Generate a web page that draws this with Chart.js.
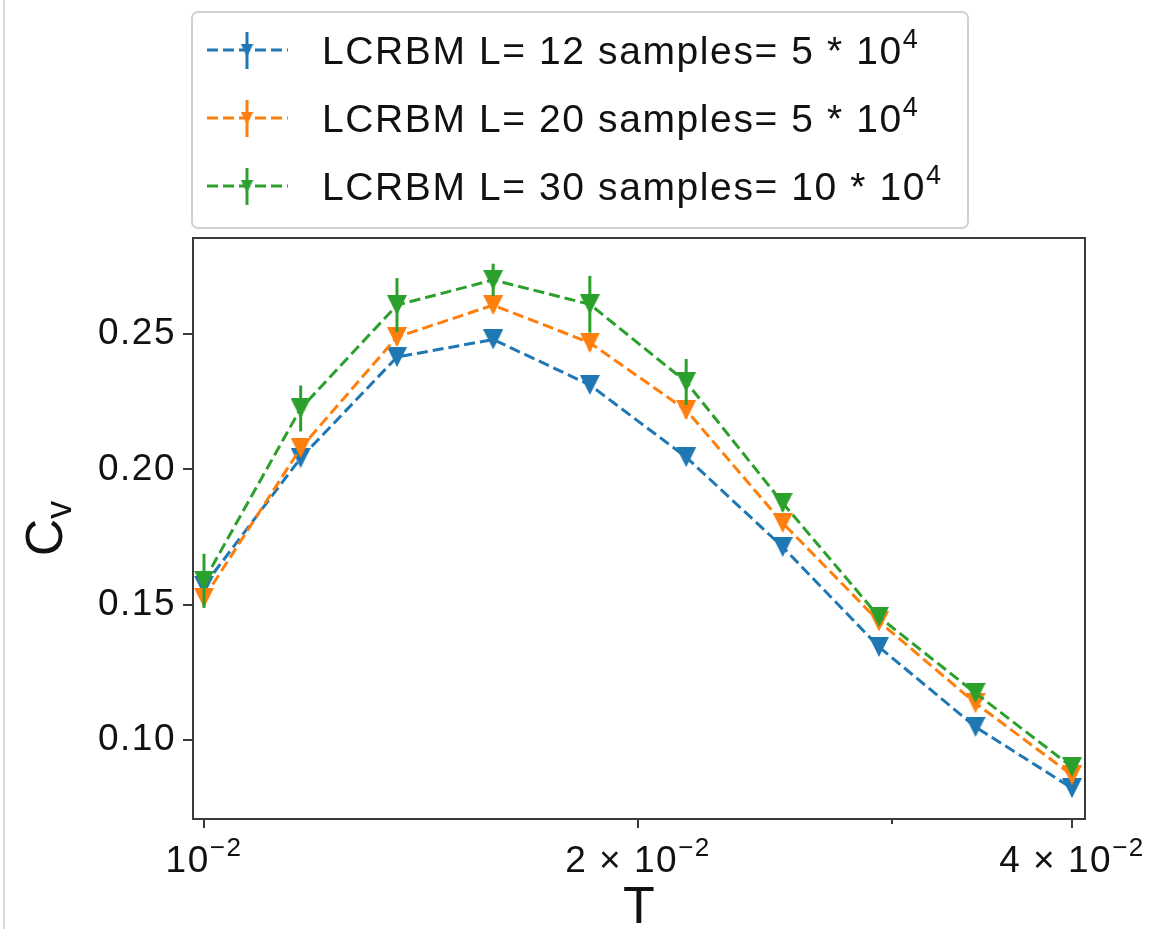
<!DOCTYPE html>
<html>
<head>
<meta charset="utf-8">
<title>Cv vs T</title>
<script src="https://cdn.jsdelivr.net/npm/chart.js@4.4.1/dist/chart.umd.min.js"></script>
<style>
  html,body{margin:0;padding:0;background:#fff;}
  #wrap{position:relative;width:1159px;height:929px;overflow:hidden;}
  #wrap:before{content:'';position:absolute;left:3px;top:0;width:2px;height:929px;background:#d8d8d8;}
  canvas{display:block;}
</style>
</head>
<body>
<div id="wrap"><canvas id="cvChart" width="1159" height="929"></canvas></div>
<script>
// --- data ---
const temps = [0.01, 0.01167, 0.01361, 0.01587, 0.01852, 0.0216, 0.0252, 0.02939, 0.03429, 0.04];

const cvL12 = [0.1570, 0.2042, 0.2415, 0.2480, 0.2312, 0.2045, 0.1713, 0.1344, 0.1048, 0.0822];
const cvL20 = [0.1525, 0.2079, 0.2489, 0.2607, 0.2468, 0.2219, 0.1802, 0.1438, 0.1136, 0.0870];
const cvL30 = [0.1588, 0.2225, 0.2607, 0.2700, 0.2610, 0.2323, 0.1876, 0.1455, 0.1173, 0.0900];

const errL12 = [0.001, 0.001, 0.001, 0.001, 0.001, 0.001, 0.001, 0.001, 0.001, 0.001];
const errL20 = [0.003, 0.002, 0.003, 0.002, 0.003, 0.003, 0.002, 0.001, 0.001, 0.001];
const errL30 = [0.0100, 0.0085, 0.0100, 0.0060, 0.0105, 0.0085, 0.0030, 0.0020, 0.0020, 0.0015];

const seriesNames = ['LCRBM L= 12 samples= 5 * 10^4', 'LCRBM L= 20 samples= 5 * 10^4', 'LCRBM L= 30 samples= 10 * 10^4'];
const seriesColors = ['#1f77b4', '#ff7f0e', '#2ca02c'];

const yTickVals = [0.10, 0.15, 0.20, 0.25];
const xTickVals = [0.01, 0.02, 0.03, 0.04];
const xTickLabels = ['10^\u22122', '2 \u00d7 10^\u22122', '', '4 \u00d7 10^\u22122'];

const seriesList = [cvL12, cvL20, cvL30];
const errList = [errL12, errL20, errL30];

const FONT = "'Liberation Sans', Arial, sans-serif";

// down-pointing triangle marker, like matplotlib 'v'
function triMarker(color, size){
  const c = document.createElement('canvas');
  c.width = size; c.height = size;
  const g = c.getContext('2d');
  g.fillStyle = color;
  g.beginPath(); g.moveTo(0, 0); g.lineTo(size, 0); g.lineTo(size/2, size); g.closePath(); g.fill();
  return c;
}

// text with "^" marking a superscript part
function richText(ctx, str, x, y, size, align){
  const parts = str.split('^');
  const supSize = Math.round(size * 0.7);
  ctx.font = size + 'px ' + FONT;
  const w0 = ctx.measureText(parts[0]).width;
  let w1 = 0;
  if (parts[1]) { ctx.font = supSize + 'px ' + FONT; w1 = ctx.measureText(parts[1]).width; }
  let x0 = x;
  if (align === 'center') x0 = x - (w0 + w1) / 2;
  ctx.textAlign = 'left';
  ctx.textBaseline = 'alphabetic';
  ctx.font = size + 'px ' + FONT;
  ctx.fillText(parts[0], x0, y);
  if (parts[1]) {
    ctx.font = supSize + 'px ' + FONT;
    ctx.fillText(parts[1], x0 + w0, y - size * 0.42);
  }
}

const decor = {
  id: 'decor',
  beforeDraw(chart){
    chart.ctx.letterSpacing = '1.5px';
  },
  afterDatasetDraw(chart, args){
    const i = args.index;
    const ctx = chart.ctx, xs = chart.scales.x, ys = chart.scales.y;
    ctx.save();
    ctx.strokeStyle = seriesColors[i];
    ctx.lineWidth = 3;
    temps.forEach((t, k) => {
      const px = xs.getPixelForValue(t);
      const v = seriesList[i][k], e = errList[i][k];
      ctx.beginPath();
      ctx.moveTo(px, ys.getPixelForValue(v - e));
      ctx.lineTo(px, ys.getPixelForValue(v + e));
      ctx.stroke();
    });
    ctx.restore();
  },
  afterDraw(chart){
    const ctx = chart.ctx, a = chart.chartArea, xs = chart.scales.x;
    ctx.save();
    // frame
    ctx.strokeStyle = '#3a3a3a';
    ctx.lineWidth = 2;
    ctx.strokeRect(a.left, a.top, a.right - a.left, a.bottom - a.top);
    // x ticks + labels
    ctx.fillStyle = '#111';
    xTickVals.forEach((v, k) => {
      const px = Math.round(xs.getPixelForValue(v));
      const len = xTickLabels[k] ? 9 : 5;
      ctx.beginPath(); ctx.moveTo(px, a.bottom); ctx.lineTo(px, a.bottom + len); ctx.stroke();
      if (xTickLabels[k]) richText(ctx, xTickLabels[k], px, 872, 37, 'center');
    });
    // axis titles
    ctx.letterSpacing = '0px';
    ctx.font = '52px ' + FONT;
    ctx.textAlign = 'center';
    ctx.fillText('T', (a.left + a.right) / 2, 923);
    ctx.save();
    ctx.translate(62, (a.top + a.bottom) / 2);
    ctx.rotate(-Math.PI / 2);
    ctx.font = '52px ' + FONT;
    const wc = ctx.measureText('C').width;
    ctx.font = '36px ' + FONT;
    const wv = ctx.measureText('v').width;
    ctx.textAlign = 'left';
    ctx.font = '52px ' + FONT;
    ctx.fillText('C', -(wc + wv) / 2, 0);
    ctx.font = '36px ' + FONT;
    ctx.fillText('v', -(wc + wv) / 2 + wc, 9);
    ctx.restore();
    // legend
    ctx.fillStyle = '#fff';
    ctx.strokeStyle = '#cfcfcf';
    ctx.lineWidth = 2;
    ctx.beginPath();
    ctx.roundRect(192, 12, 776, 216, 6);
    ctx.fill(); ctx.stroke();
    seriesNames.forEach((name, i) => {
      const cy = 50 + 68 * i;
      ctx.strokeStyle = seriesColors[i];
      ctx.lineWidth = 3;
      ctx.setLineDash([11, 5]);
      ctx.beginPath(); ctx.moveTo(207, cy); ctx.lineTo(288, cy); ctx.stroke();
      ctx.setLineDash([]);
      ctx.beginPath(); ctx.moveTo(247, cy - 18); ctx.lineTo(247, cy + 19); ctx.stroke();
      ctx.drawImage(triMarker(seriesColors[i], 13), 247 - 6.5, cy - 6.5);
      ctx.fillStyle = '#111';
      ctx.letterSpacing = '1.6px';
      richText(ctx, name, 322, cy + 14, 39, 'left');
    });
    ctx.restore();
  }
};

function buildDatasets(){
  return seriesList.map((vals, i) => ({
    label: seriesNames[i],
    data: temps.map((t, k) => ({x: t, y: vals[k]})),
    borderColor: seriesColors[i],
    backgroundColor: seriesColors[i],
    borderWidth: 3,
    borderDash: [11, 5],
    fill: false,
    tension: 0,
    pointStyle: triMarker(seriesColors[i], 20),
    pointRadius: 6,
    order: 3 - i
  }));
}

function init(){
  new Chart(document.getElementById('cvChart'), {
    type: 'line',
    data: {datasets: buildDatasets()},
    plugins: [decor],
    options: {
      responsive: false,
      animation: false,
      events: [],
      layout: {padding: {left: 0, right: 74, top: 238, bottom: 0}},
      plugins: {legend: {display: false}, tooltip: {enabled: false}},
      scales: {
        x: {
          type: 'logarithmic', min: 0.009826, max: 0.04084,
          grid: {display: false}, border: {display: false},
          ticks: {display: false},
          afterBuildTicks: s => { s.ticks = xTickVals.map(v => ({value: v})); },
          afterFit: s => { s.height = 110; }
        },
        y: {
          type: 'linear', min: 0.0708, max: 0.2855,
          grid: {drawOnChartArea: false, tickLength: 10, color: '#3a3a3a', lineWidth: 2},
          border: {display: false},
          ticks: {font: {family: FONT, size: 37}, color: '#111', padding: 7, callback: v => v.toFixed(2)},
          afterBuildTicks: s => { s.ticks = yTickVals.map(v => ({value: v})); },
          afterFit: s => { s.width = 193; }
        }
      }
    }
  });
}

window.onload = init;
</script>
</body>
</html>
